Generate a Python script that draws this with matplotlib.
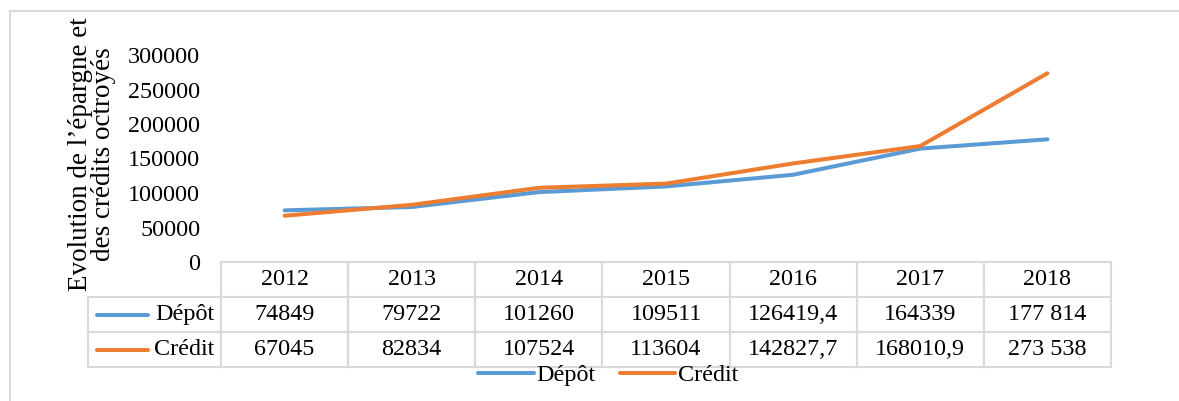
import matplotlib
matplotlib.use("Agg")
import matplotlib.pyplot as plt
from matplotlib.lines import Line2D
from matplotlib.table import Table

plt.rcParams['font.family'] = ['Liberation Serif', 'DejaVu Serif']

# donnees
annees = ['2012', '2013', '2014', '2015', '2016', '2017', '2018']
depot = [74849, 79722, 101260, 109511, 126419.4, 164339, 177814]
credit = [67045, 82834, 107524, 113604, 142827.7, 168010.9, 273538]
depot_txt = ['74849', '79722', '101260', '109511', '126419,4', '164339', '177 814']
credit_txt = ['67045', '82834', '107524', '113604', '142827,7', '168010,9', '273 538']
y_ticks = [0, 50000, 100000, 150000, 200000, 250000, 300000]

bleu = '#5B9BD5'
orange = '#ED7D31'
gris = '#D9D9D9'
W, H = 1179, 401
fs = 17.4

fig = plt.figure(figsize=(W / 100, H / 100), dpi=100)

# zone de trace (pixels)
x0, x1, ytop, ybot = 221, 1111, 55, 262
ax = fig.add_axes([x0 / W, 1 - ybot / H, (x1 - x0) / W, (ybot - ytop) / H])

x = range(len(annees))
ax.plot(x, depot, color=bleu, lw=2.9, solid_capstyle='round', label='Dépôt')
ax.plot(x, credit, color=orange, lw=2.9, solid_capstyle='round', label='Crédit')
ax.set_xlim(-0.5, len(annees) - 0.5)
ax.set_ylim(0, 300000)
ax.set_yticks(y_ticks)
ax.set_yticklabels([str(v) for v in y_ticks], fontsize=fs)
ax.tick_params(axis='y', length=0, pad=15)
ax.set_xticks([])
for s in ax.spines.values():
    s.set_visible(False)

ax.set_ylabel("Evolution de l\u2019épargne et\ndes crédits octroyés", fontsize=19.5, linespacing=0.92)
ax.yaxis.set_label_coords(-0.1175, 0.52)

# tableau de donnees
tx0, ty0, ty1 = 88, 262, 367
aw, ah = x1 - x0, ybot - ytop
tab = Table(ax, bbox=[(tx0 - x0) / aw, -(ty1 - ybot) / ah, (x1 - tx0) / aw, (ty1 - ty0) / ah])
lab_w = x0 - tx0
col_w = (x1 - x0) / len(annees)
row_h = (ty1 - ty0) / 3
for j, a in enumerate(annees):
    c = tab.add_cell(0, j + 1, col_w, row_h, text=a, loc='center')
for i, (nom, vals) in enumerate([('Dépôt', depot_txt), ('Crédit', credit_txt)]):
    c = tab.add_cell(i + 1, 0, lab_w, row_h, text=nom, loc='right')
    c.PAD = 0.05
    for j, v in enumerate(vals):
        tab.add_cell(i + 1, j + 1, col_w, row_h, text=v, loc='center')
for cell in tab.get_celld().values():
    cell.set_edgecolor(gris)
    cell.set_linewidth(1.5)
tab.auto_set_font_size(False)
tab.set_fontsize(fs)
ax.add_table(tab)

# echantillons de ligne dans le tableau
for i, col in enumerate([bleu, orange]):
    yy = (ybot - (ty0 + row_h * (i + 1.5))) / ah
    ax.add_line(Line2D([(97 - x0) / aw, (148 - x0) / aw], [yy, yy], color=col, lw=2.9,
                       solid_capstyle='round', transform=ax.transAxes, clip_on=False))

fig.legend(loc='center', bbox_to_anchor=(608 / W, 1 - 375 / H), ncol=2, frameon=False,
           fontsize=fs, handlelength=2.3, handletextpad=0.1, columnspacing=1.0,
           borderpad=0, borderaxespad=0)

# cadre
fig.add_artist(Line2D([10 / W, 1], [1 - 11 / H, 1 - 11 / H], color=gris, lw=1.5))
fig.add_artist(Line2D([10 / W, 10 / W], [0, 1 - 11 / H], color=gris, lw=1.5))

fig.savefig('out.png', dpi=100)
